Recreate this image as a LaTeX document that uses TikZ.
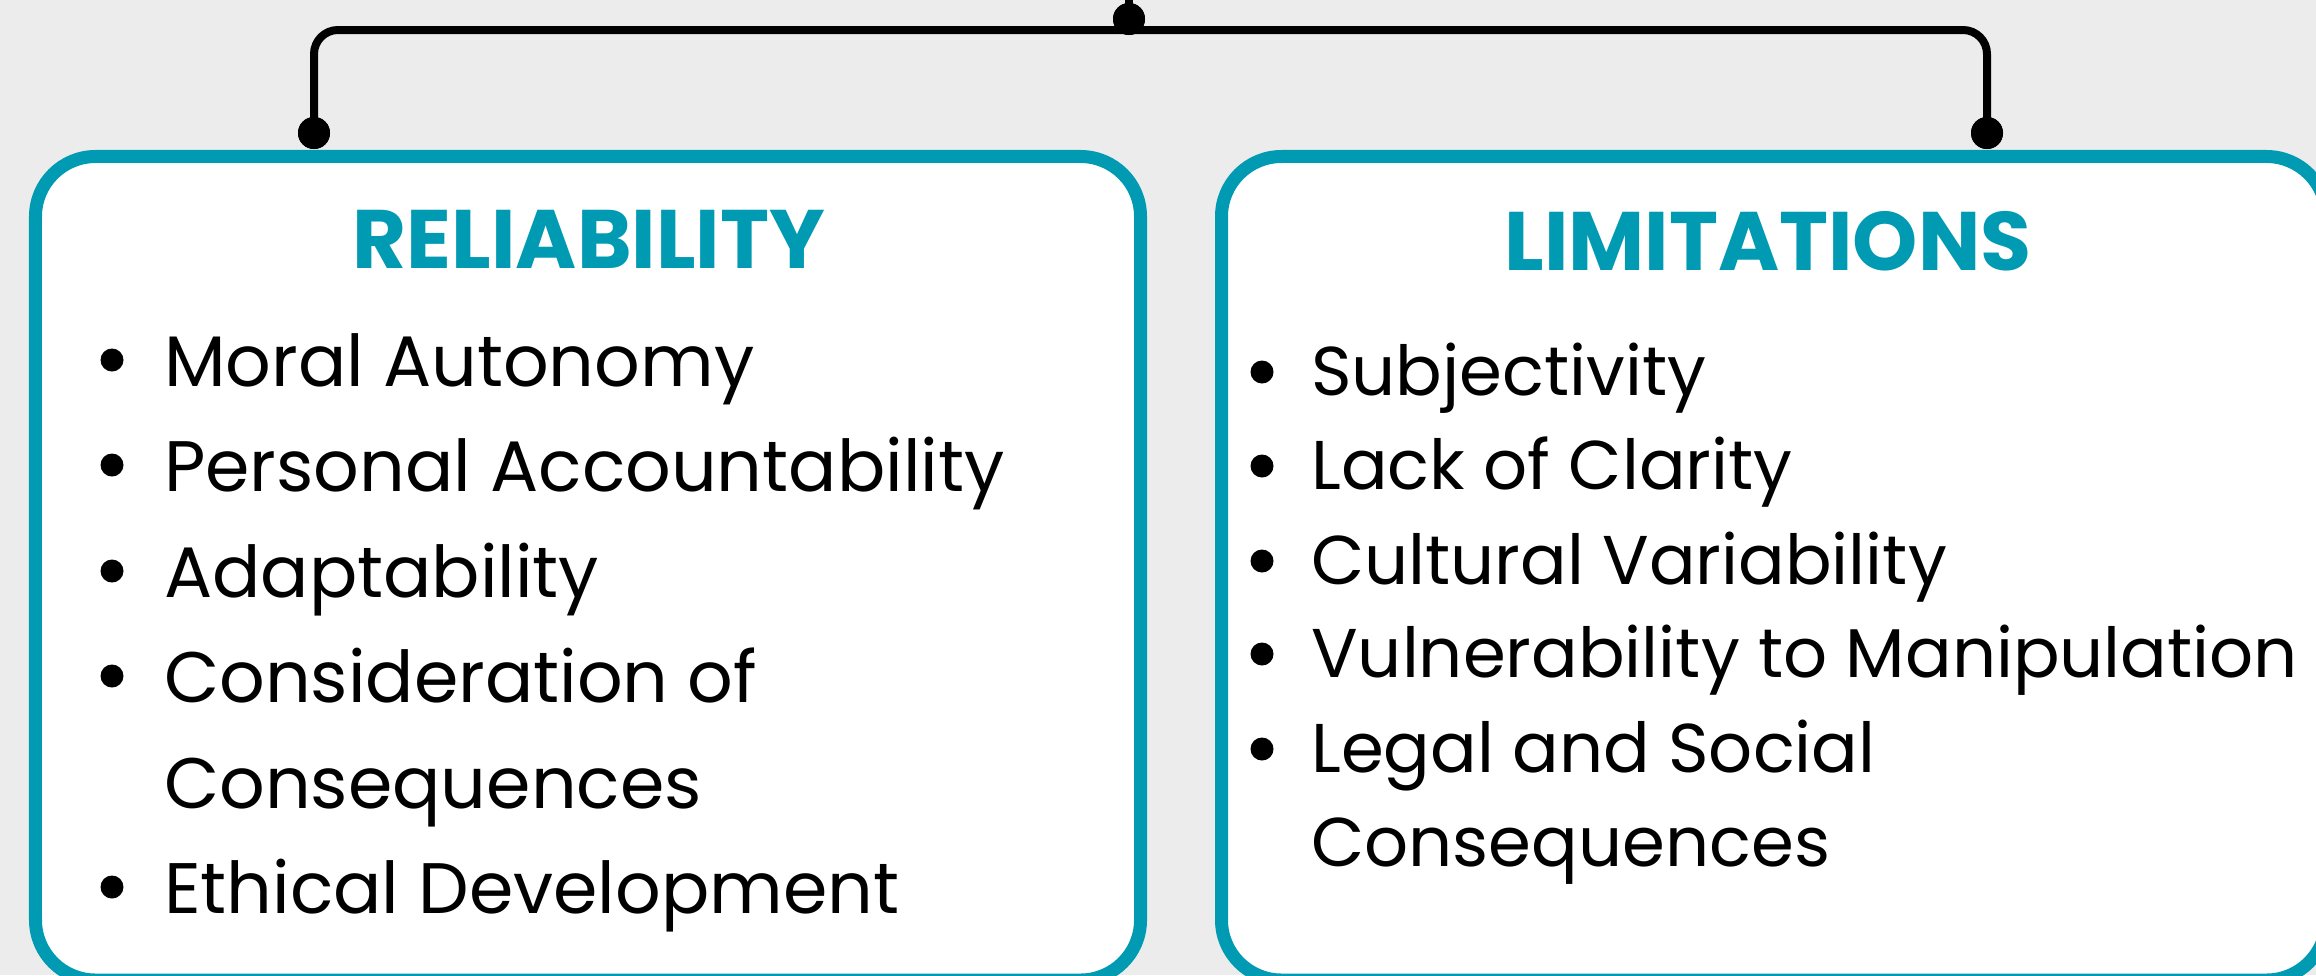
\documentclass[tikz,border=0pt]{standalone}
\usepackage{fontspec}
\setmainfont{Poppins}
\definecolor{teal1}{RGB}{0,154,179}
\definecolor{bggray}{RGB}{236,236,236}
\begin{document}
\begin{tikzpicture}[x=1bp,y=-1bp,
  panel/.style={draw=teal1,line width=13bp,fill=white,rounded corners=60bp,rectangle,inner sep=0pt},
  conn/.style={line width=8bp,black},
  knob/.style={circle,fill=black,inner sep=0pt,minimum size=32bp},
  bul/.style={circle,fill=black,inner sep=0pt,minimum size=23bp},
  ttl/.style={font=\fontsize{83bp}{100bp}\selectfont\bfseries,text=teal1,inner sep=0pt,anchor=base},
  itl/.style={font=\fontsize{71.5bp}{86bp}\selectfont,inner sep=0pt,anchor=base west},
  itr/.style={font=\fontsize{69bp}{84bp}\selectfont,inner sep=0pt,anchor=base west}]
\useasboundingbox (0,0) rectangle (2316,975);
\clip (0,0) rectangle (2316,975);
\fill[bggray] (0,0) rectangle (2316,975);
% panels
\node[panel,minimum width=1105bp,minimum height=823.5bp] (lbox) at (588,568.25) {};
\node[panel,minimum width=1105bp,minimum height=823.5bp] (rbox) at (1774,568.25) {};
% connectors
\coordinate (bar) at (1129,30);
\coordinate (ctop) at (1129,-10);
\node[knob] (ldot) at (314,133) {};
\node[knob] (rdot) at (1987,133) {};
\node[knob] (cdot) at (1129,19) {};
\draw[conn,rounded corners=24bp] (ldot.center) |- (bar) -| (rdot.center);
\draw[conn] (cdot.center) -- (ctop);
\node[knob] at (ldot) {};
\node[knob] at (rdot) {};
\node[knob] at (cdot) {};
% titles
\node[ttl] (t1) at (589,268) {RELIABILITY};
\node[ttl] (t2) at (1768,270) {LIMITATIONS};
% left list
\node[bul] (lb1) at (112,360) {};
\node[itl] (l1) at (164,386) {Moral Autonomy};
\node[bul] (lb2) at (112,465) {};
\node[itl] (l2) at (164,491) {Personal Accountability};
\node[bul] (lb3) at (112,571) {};
\node[itl] (l3) at (164,597) {Adaptability};
\node[bul] (lb4) at (112,676) {};
\node[itl] (l4) at (164,702) {Consideration of};
\node[itl] (l4b) at (164,808) {Consequences};
\node[bul] (lb5) at (112,887) {};
\node[itl] (l5) at (164,913) {Ethical Development};
% right list
\node[bul] (rb1) at (1262,372) {};
\node[itr] (r1) at (1311,395) {Subjectivity};
\node[bul] (rb2) at (1262,466) {};
\node[itr] (r2) at (1311,489) {Lack of Clarity};
\node[bul] (rb3) at (1262,561) {};
\node[itr] (r3) at (1311,584) {Cultural Variability};
\node[bul] (rb4) at (1262,654) {};
\node[itr] (r4) at (1311,677) {Vulnerability to Manipulation};
\node[bul] (rb5) at (1262,749) {};
\node[itr] (r5) at (1311,772) {Legal and Social};
\node[itr] (r5b) at (1311,866) {Consequences};
\end{tikzpicture}
\end{document}
